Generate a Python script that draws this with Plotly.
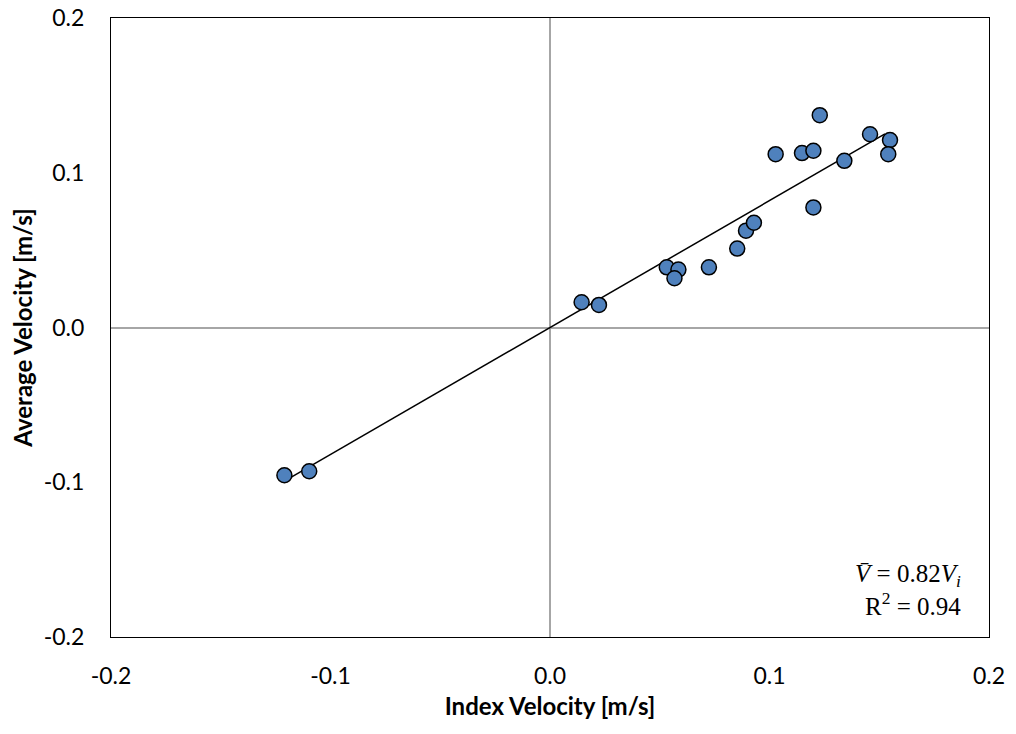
import plotly.graph_objects as go

index_velocity = [0.0144, 0.0223, 0.0532, 0.0585, 0.0567, 0.0724, 0.0853, 0.0893, 0.0929,
                  0.1200, 0.1028, 0.1148, 0.1200, 0.1229, 0.1341, 0.1458, 0.1549, 0.1541,
                  -0.1210, -0.1097]
average_velocity = [0.0163, 0.0146, 0.0389, 0.0374, 0.0318, 0.0389, 0.0510, 0.0626, 0.0677,
                    0.0776, 0.1120, 0.1127, 0.1142, 0.1372, 0.1077, 0.1249, 0.1211, 0.1120,
                    -0.0955, -0.0929]
slope = 0.82
fit_x = [-0.121, 0.1526]
fit_y = [slope * v for v in fit_x]

tick_vals = [-0.2, -0.1, 0.0, 0.1, 0.2]
tick_text = ["-0.2", "-0.1", "0.0", "0.1", "0.2"]

font_family = "Lato, 'Open Sans', sans-serif"

fig = go.Figure()
fig.add_trace(go.Scatter(x=fit_x, y=fit_y, mode="lines",
                         line=dict(color="black", width=1.5), showlegend=False, hoverinfo="skip"))
fig.add_trace(go.Scatter(x=index_velocity, y=average_velocity, mode="markers",
                         marker=dict(size=15, color="#4F81BD", line=dict(color="black", width=1.5)),
                         showlegend=False))

axis_common = dict(
    tickvals=tick_vals, ticktext=tick_text, range=[-0.2, 0.2],
    showgrid=False, zeroline=True, zerolinecolor="#A6A6A6", zerolinewidth=1.5,
    showline=True, linecolor="black", linewidth=1, mirror=True, ticks="",
    ticklabeloverflow="allow", automargin=False,
    tickfont=dict(family=font_family, size=23, color="black"),
)

fig.update_layout(
    width=1000, height=718,
    margin=dict(l=103, r=19, t=10, b=89),
    plot_bgcolor="white", paper_bgcolor="white",
    xaxis=dict(**axis_common, ticklabelstandoff=18,
               title=dict(text="<b>Index Velocity [m/s]</b>", standoff=10,
                          font=dict(family=font_family, size=24, color="black"))),
    yaxis=dict(**axis_common, ticklabelstandoff=21,
               title=dict(text="<b>Average Velocity [m/s]</b>", standoff=10,
                          font=dict(family=font_family, size=24, color="black"))),
    annotations=[dict(
        x=0.970, y=0.076, xref="paper", yref="paper", xanchor="right", yanchor="middle",
        align="right", showarrow=False,
        text="<i>V̄</i> = 0.82<i>V<sub>i</sub></i><br>R<sup>2</sup> = 0.94",
        font=dict(family="'Liberation Serif', 'DejaVu Serif', serif", size=25, color="black"),
    )],
)

fig.write_html("out.html")
